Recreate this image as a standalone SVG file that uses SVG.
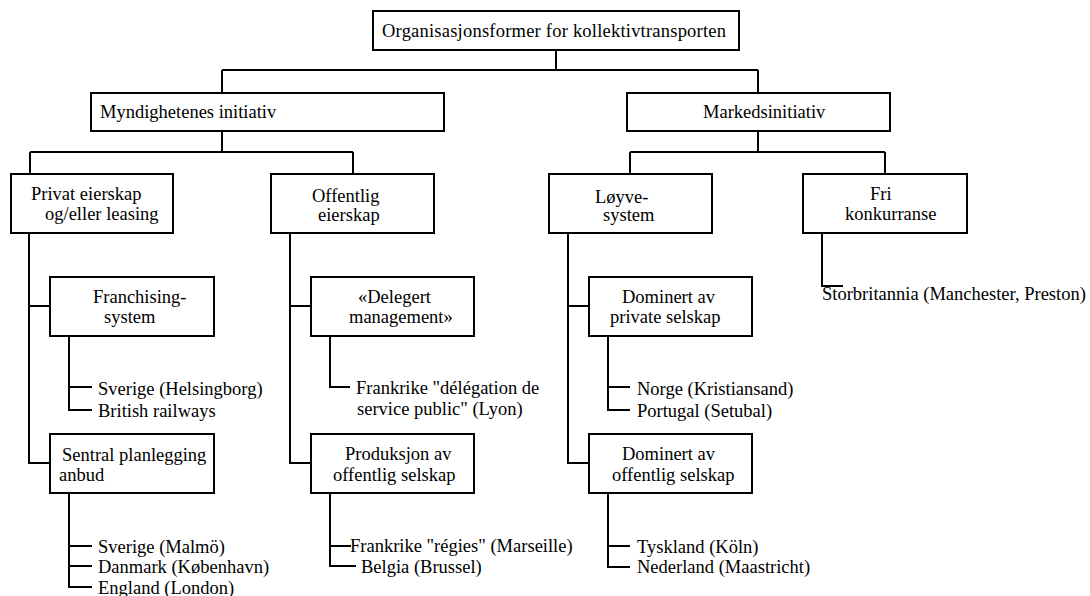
<svg xmlns="http://www.w3.org/2000/svg" width="1090" height="596" viewBox="0 0 1090 596">
<style>
.b{fill:#fff;stroke:#000;stroke-width:2}
.c{fill:none;stroke:#000;stroke-width:2}
text{font-family:"Liberation Serif","Times New Roman",serif;font-size:18.5px;fill:#000}
</style>
<rect width="1090" height="596" fill="#fff"/>
<g id="connectors" class="c">
<path d="M556 50V70M222 70H758M222 70V93M758 70V93"/>
<path d="M222 131V152M30 152H353M30 152V174M353 152V174"/>
<path d="M758 131V152M630 152H885M630 152V174M885 152V174"/>
<path d="M29 233V463H50M29 306H50"/>
<path d="M290 233V463H311M290 306H311"/>
<path d="M568 233V463H589M568 306H589"/>
<path d="M822 233V286H843"/>
<path d="M69 336V410H92M69 387H92"/>
<path d="M330 336V387H350"/>
<path d="M608 336V410H630M608 387H630"/>
<path d="M69 493V587H92M69 546H92M69 566H92"/>
<path d="M330 493V566H356M330 546H351"/>
<path d="M608 493V567H630M608 546H630"/>
</g>
<g id="root"><rect class="b" x="373" y="11" width="366" height="39"/><text x="382" y="37" textLength="344" lengthAdjust="spacing">Organisasjonsformer for kollektivtransporten</text></g>
<g id="myndighetenes"><rect class="b" x="91" y="93" width="353" height="38"/><text x="100" y="118">Myndighetenes initiativ</text></g>
<g id="markedsinitiativ"><rect class="b" x="627" y="93" width="263" height="38"/><text x="703" y="118">Markedsinitiativ</text></g>
<g id="privat"><rect class="b" x="11" y="174" width="162" height="59"/><text x="31" y="200">Privat eierskap</text><text x="45" y="220">og/eller leasing</text></g>
<g id="offentlig"><rect class="b" x="271" y="174" width="163" height="59"/><text x="312" y="202">Offentlig</text><text x="318" y="221">eierskap</text></g>
<g id="loyve"><rect class="b" x="549" y="174" width="163" height="59"/><text x="595" y="203">Løyve-</text><text x="603" y="221">system</text></g>
<g id="fri"><rect class="b" x="803" y="174" width="164" height="59"/><text x="870" y="200">Fri</text><text x="845" y="220">konkurranse</text></g>
<g id="franchising"><rect class="b" x="50" y="277" width="164" height="59"/><text x="93" y="303">Franchising-</text><text x="104" y="323">system</text></g>
<g id="delegert"><rect class="b" x="311" y="277" width="163" height="59"/><text x="358" y="303">«Delegert</text><text x="349" y="323">management»</text></g>
<g id="dominert-private"><rect class="b" x="589" y="277" width="163" height="59"/><text x="622" y="303">Dominert av</text><text x="610" y="323">private selskap</text></g>
<g id="sentral"><rect class="b" x="50" y="434" width="164" height="59"/><text x="62" y="461">Sentral planlegging</text><text x="59" y="481">anbud</text></g>
<g id="produksjon"><rect class="b" x="311" y="434" width="163" height="59"/><text x="345" y="460">Produksjon av</text><text x="333" y="481">offentlig selskap</text></g>
<g id="dominert-offentlig"><rect class="b" x="589" y="434" width="163" height="59"/><text x="622" y="460">Dominert av</text><text x="612" y="481">offentlig selskap</text></g>
<g id="leaves">
<text x="98" y="395">Sverige (Helsingborg)</text>
<text x="98" y="417">British railways</text>
<text x="356" y="394">Frankrike "délégation de</text>
<text x="357" y="415">service public" (Lyon)</text>
<text x="637" y="395">Norge (Kristiansand)</text>
<text x="637" y="417">Portugal (Setubal)</text>
<text x="822" y="300">Storbritannia (Manchester, Preston)</text>
<text x="98" y="553">Sverige (Malmö)</text>
<text x="98" y="573">Danmark (København)</text>
<text x="98" y="594">England (London)</text>
<text x="350" y="552">Frankrike "régies" (Marseille)</text>
<text x="361" y="573">Belgia (Brussel)</text>
<text x="637" y="553">Tyskland (Köln)</text>
<text x="637" y="573">Nederland (Maastricht)</text>
</g>
</svg>
